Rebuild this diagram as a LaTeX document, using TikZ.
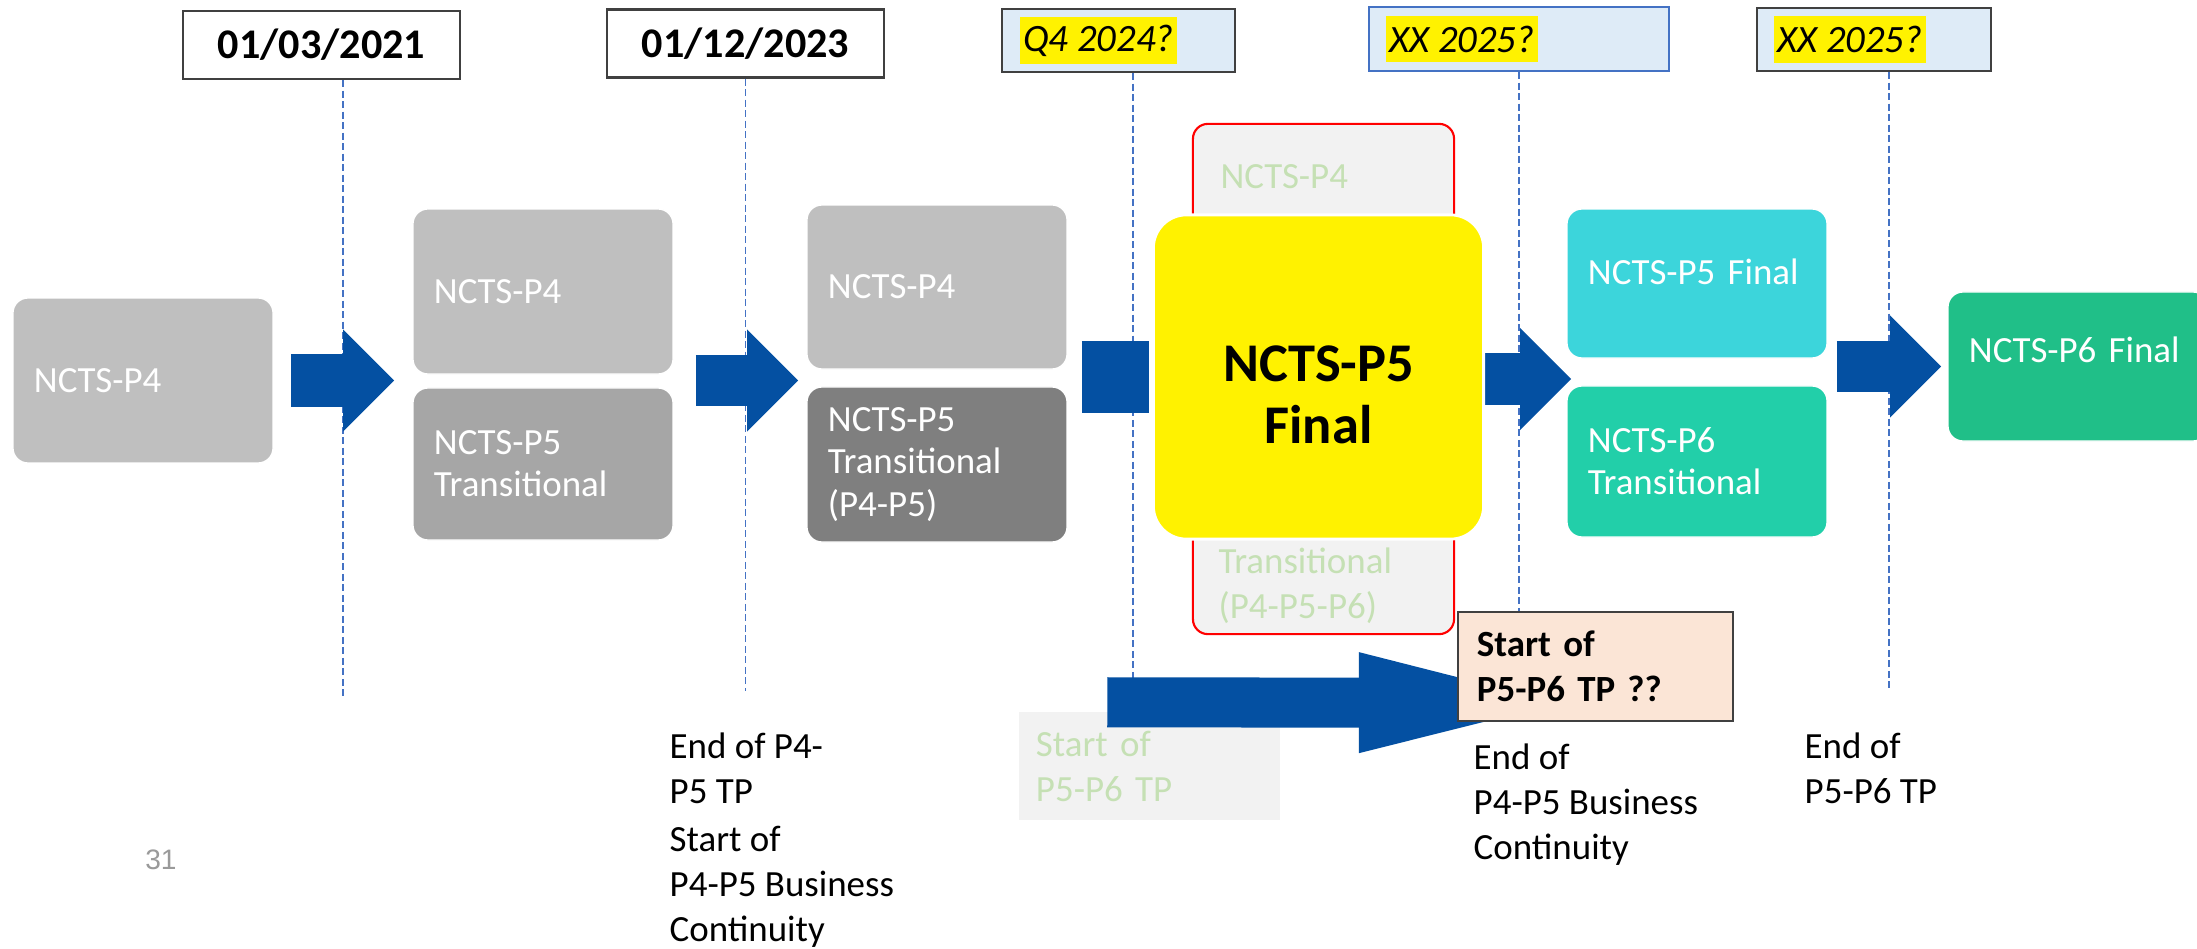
\documentclass[tikz,border=0pt]{standalone}
\usepackage{fontspec}
\setmainfont{Carlito}
\newfontfamily\pagenofont{Liberation Sans}
\usetikzlibrary{arrows.meta}

\definecolor{stagelight}{HTML}{BFBFBF}
\definecolor{stagemid}{HTML}{A6A6A6}
\definecolor{stagedark}{HTML}{7F7F7F}
\definecolor{fadefill}{HTML}{F2F2F2}
\definecolor{fadetext}{HTML}{C5E0B4}
\definecolor{datefill}{HTML}{DEEBF7}
\definecolor{guideblue}{HTML}{4472C4}
\definecolor{flowblue}{HTML}{0450A2}
\definecolor{finalcyan}{HTML}{3CD5DB}
\definecolor{transteal}{HTML}{22CFA9}
\definecolor{finalgreen}{HTML}{20BF88}
\definecolor{tpfill}{HTML}{FBE5D6}
\definecolor{edgegray}{HTML}{404040}
\definecolor{pagegray}{HTML}{9A9A9A}

\begin{document}
\begin{tikzpicture}[x=0.01cm, y=-0.01cm,
  stage/.style={rounded corners=1.5mm, draw=white, minimum width=2.6cm, inner xsep=2.1mm, text width=2.18cm, align=left, text=white, font=\fontsize{10.5}{12}\selectfont},
  datebox/.style={draw=edgegray, line width=0.6pt, fill=white, minimum width=2.77cm, minimum height=0.68cm, font=\bfseries\fontsize{12}{14}\selectfont},
  guess/.style={draw=edgegray, line width=0.6pt, fill=datefill, minimum height=0.63cm},
  hilite/.style={fill=yellow, inner xsep=1pt, inner ysep=0pt, minimum height=0.46cm, font=\itshape\fontsize{11}{13}\selectfont},
  guide/.style={draw=guideblue, line width=0.4pt, dash pattern=on 0.7mm off 0.35mm},
  flow/.style={draw=flowblue, line width=5.2mm, -{Triangle[length=5.1mm, width=10.2mm, line width=0pt]}},
  note/.style={align=left, inner sep=0pt, font=\fontsize{10.5}{12.8}\selectfont}
]
\path[use as bounding box, fill=white] (0,0) rectangle (2197,949);

% dates on top
\node[datebox] (d1) at (321.5,45) {01/03/2021};
\node[datebox] (d2) at (745.5,43.5) {01/12/2023};
\node[guess, minimum width=2.33cm] (q4) at (1118.5,40.5) {};
\node[hilite, anchor=west] (q4txt) at ([xshift=1.8mm]q4.west) {Q4 2024?};
\node[guess, draw=guideblue, minimum width=3cm, minimum height=0.64cm] (xx1) at (1519,39) {};
\node[hilite, anchor=west] (xx1txt) at ([xshift=1.7mm]xx1.west) {XX 2025?};
\node[guess, minimum width=2.34cm] (xx2) at (1874,39.5) {};
\node[hilite, anchor=west] (xx2txt) at ([xshift=1.7mm]xx2.west) {XX 2025?};

\draw[guide] ([xshift=2.15mm]d1.south) -- ++(0,617);
\draw[guide] (d2.south) -- ++(0,612);
\draw[guide] ([xshift=1.45mm]q4.south) -- ++(0,624);
\draw[guide] (xx1.south) -- ++(0,619);
\draw[guide] ([xshift=1.5mm]xx2.south) -- ++(0,619);

% stages
\node[stage, fill=stagelight, minimum height=1.65cm] (p4a) at (143,380.5) {NCTS-P4};
\node[stage, fill=stagelight, minimum height=1.65cm] (p4b) at (543,291.5) {NCTS-P4};
\node[stage, fill=stagemid, minimum height=1.52cm] (p5t) at (543,464) {NCTS-P5\\Transitional};
\node[stage, fill=stagelight, minimum height=1.64cm] (p4c) at (937,287) {NCTS-P4};
\node[stage, fill=stagedark, minimum height=1.55cm] (p5tt) at (937,464.5) {NCTS-P5\\Transitional\\(P4-P5)};
\node[stage, fill=finalcyan, minimum height=1.49cm, text depth=2.3mm] (p5fin) at (1697,283.5) {NCTS-P5 Final};
\node[stage, fill=transteal, minimum height=1.51cm] (p6t) at (1697,461.5) {NCTS-P6\\Transitional};
\node[stage, fill=finalgreen, minimum height=1.49cm, text depth=3.4mm] (p6f) at (2078,366.5) {NCTS-P6 Final};

\node[draw=red, line width=0.6pt, fill=fadefill, rounded corners=1.5mm, minimum width=2.61cm, minimum height=5.1cm] (oldmix) at (1323.5,379) {};
\node[note, text=fadetext, anchor=west] (oldp4) at ([xshift=2.8mm,yshift=-5.4mm]oldmix.north west) {NCTS-P4};
\node[note, text=fadetext, anchor=south west] (oldtp) at ([xshift=2.6mm,yshift=1.1mm]oldmix.south west) {Transitional\\(P4-P5-P6)};

\draw[flow, line width=5.1mm, shorten >=-0.5mm] (oldmix.center) -- (oldmix.center -| p5fin.west);

\node[draw=white, line width=0.8pt, fill=yellow, rounded corners=3.3mm, minimum width=3.3cm, minimum height=3.24cm] (p5f) at (1318.5,377) {};
\node[align=center, font=\bfseries\fontsize{15.5}{17.5}\selectfont] (p5flbl) at ([yshift=-1.8mm]p5f.center) {NCTS-P5\\Final};

% arrows
\draw[flow, shorten <=1.7mm, shorten >=1.8mm] (p4a.east) -- (p4a.east -| p4b.west);
\draw[flow, line width=5.1mm, shorten <=2.2mm, shorten >=0.8mm] (p4a.east -| p5t.east) -- (p4a.east -| p4c.west);
\draw[flowblue, line width=7.2mm, shorten <=1.4mm, shorten >=0.3mm] (p5f.west -| p4c.east) -- (p5f.west);
\draw[flow, line width=5.1mm, shorten <=0.9mm, shorten >=0.6mm] (p6f.west -| p5fin.east) -- (p6f.west);

% start of P5-P6 TP
\node[stage, rounded corners=0pt, draw=none, fill=fadefill, text=fadetext, minimum width=2.61cm, text width=2.27cm, inner xsep=1.7mm, minimum height=1.08cm, font=\fontsize{10.5}{12.8}\selectfont] (sp6old) at (1149.5,766) {Start of\\P5-P6 TP};
\coordinate (bigtip) at (1559,703);
\draw[flow, line width=5mm, -{Triangle[length=20mm, width=10.1mm, line width=0pt]}] ([xshift=8.9mm,yshift=0.9mm]sp6old.north west) -- (bigtip);
\node[draw=edgegray, line width=0.6pt, fill=tpfill, minimum width=2.75cm, minimum height=1.09cm, text width=2.37cm, inner xsep=1.9mm, align=left, font=\bfseries\fontsize{10.5}{12.8}\selectfont] (sp6) at (1595.5,666.5) {Start of\\P5-P6 TP ??};

% notes below
\node[note, anchor=north west] (eop45) at (669,732) {End of P4-\\P5 TP\\[1pt]Start of\\P4-P5 Business\\Continuity};
\node[note, anchor=north west] (eobc) at (1473,743) {End of\\P4-P5 Business\\Continuity};
\node[note, anchor=north west] (eop56) at (1804,732) {End of\\P5-P6 TP};
\node[text=pagegray, font=\pagenofont\fontsize{8}{10}\selectfont] (pgno) at (161,860) {31};
\end{tikzpicture}
\end{document}
